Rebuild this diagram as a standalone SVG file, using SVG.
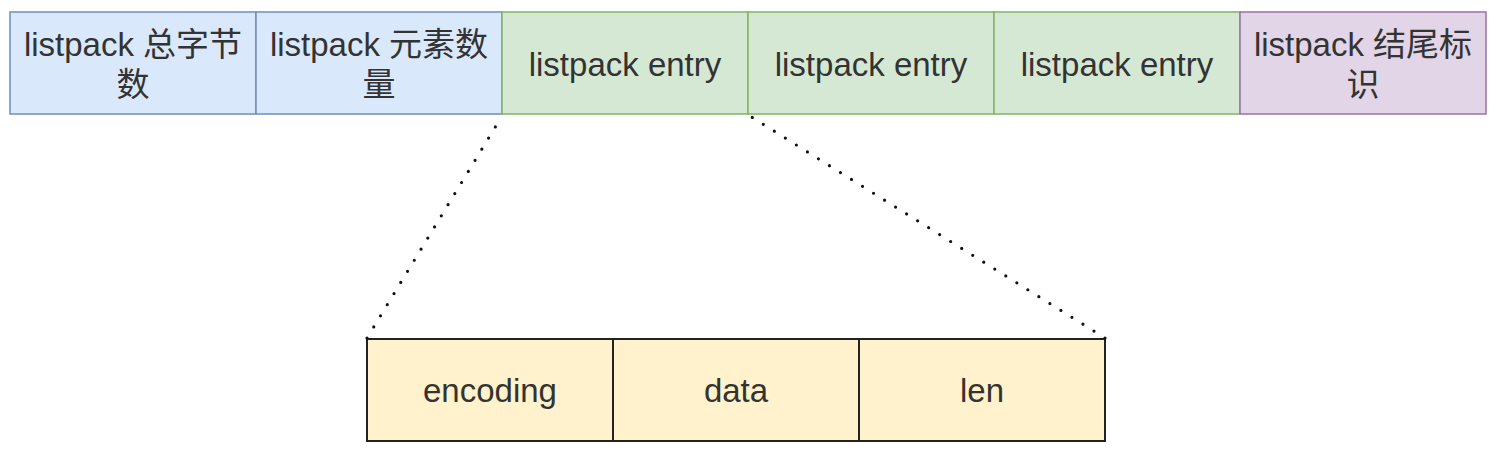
<svg xmlns="http://www.w3.org/2000/svg" width="1494" height="454" viewBox="0 0 1494 454">
<style>
text{font-family:"Liberation Sans","Noto Sans CJK SC",sans-serif;font-size:33px;fill:#333;text-anchor:middle}
.b{fill:#dae8fc;stroke:#6c8ebf;stroke-width:1.5}
.g{fill:#d5e8d4;stroke:#82b366;stroke-width:1.5}
.p{fill:#e1d5e7;stroke:#9673a6;stroke-width:1.5}
.y{fill:#fff2cc;stroke:#222;stroke-width:2}
.dot{stroke:#111;stroke-width:3.2;stroke-linecap:round;stroke-dasharray:0 13;fill:none}
</style>
<rect width="1494" height="454" fill="#fff"/>
<g id="n1"><rect class="b" x="10" y="12" width="246" height="102"/><text x="133" y="56">listpack 总字节</text><text x="133" y="96">数</text></g>
<g id="n2"><rect class="b" x="256" y="12" width="246" height="102"/><text x="379" y="56">listpack 元素数</text><text x="379" y="96">量</text></g>
<g id="n3"><rect class="g" x="502" y="12" width="246" height="102"/><text x="625" y="76">listpack entry</text></g>
<g id="n4"><rect class="g" x="748" y="12" width="246" height="102"/><text x="871" y="76">listpack entry</text></g>
<g id="n5"><rect class="g" x="994" y="12" width="246" height="102"/><text x="1117" y="76">listpack entry</text></g>
<g id="n6"><rect class="p" x="1240" y="12" width="246" height="102"/><text x="1363" y="56">listpack 结尾标</text><text x="1363" y="96">识</text></g>
<g id="e1"><rect class="y" x="367" y="339" width="246" height="102"/><text x="490" y="402">encoding</text></g>
<g id="e2"><rect class="y" x="613" y="339" width="246" height="102"/><text x="736" y="402">data</text></g>
<g id="e3"><rect class="y" x="859" y="339" width="246" height="102"/><text x="982" y="402">len</text></g>
<g id="connectors">
<line class="dot" x1="367" y1="338" x2="502" y2="116"/>
<line class="dot" x1="1105" y1="338" x2="750" y2="116"/>
</g>
</svg>
